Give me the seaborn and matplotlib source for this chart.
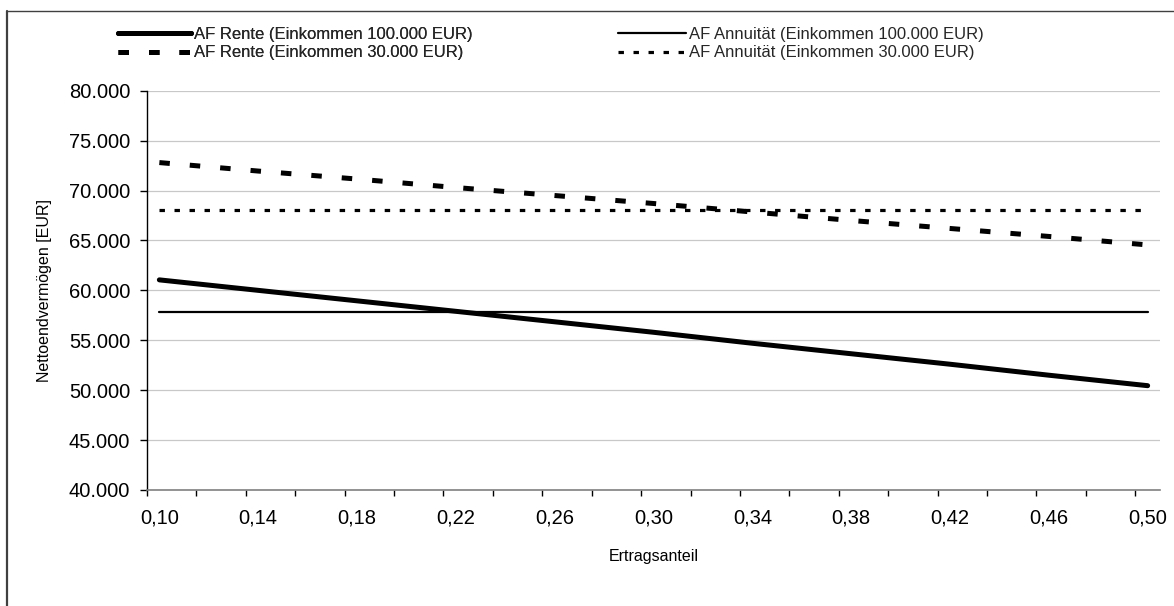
import numpy as np
import pandas as pd
import matplotlib
matplotlib.use("Agg")
import matplotlib.pyplot as plt
import seaborn as sns
from matplotlib.lines import Line2D

# ---- data ----
ertragsanteil = [0.10, 0.14, 0.18, 0.22, 0.26, 0.30, 0.34, 0.38, 0.42, 0.46, 0.50]
rente_100k = [61050, 60000, 58950, 57900, 56850, 55800, 54700, 53650, 52600, 51500, 50450]
rente_30k = [72800, 71950, 71150, 70300, 69500, 68700, 67850, 67000, 66200, 65400, 64550]
annuitaet_100k = [57850] * 11
annuitaet_30k = [68050] * 11

labels = ["AF Rente (Einkommen 100.000 EUR)",
          "AF Rente (Einkommen 30.000 EUR)",
          "AF Annuität (Einkommen 100.000 EUR)",
          "AF Annuität (Einkommen 30.000 EUR)"]

x_tick_labels = ["0,10", "0,14", "0,18", "0,22", "0,26", "0,30",
                 "0,34", "0,38", "0,42", "0,46", "0,50"]
y_ticks = [40000, 45000, 50000, 55000, 60000, 65000, 70000, 75000, 80000]
y_tick_labels = ["40.000", "45.000", "50.000", "55.000", "60.000", "65.000",
                 "70.000", "75.000", "80.000"]

sns.set_theme(style="white")
plt.rcParams['font.family'] = ['Liberation Sans', 'DejaVu Sans']

W, H = 1174, 606
fig = plt.figure(figsize=(W / 100, H / 100), dpi=100)
fig.patch.set_facecolor("white")

L, R, T, B = 147, 1160, 90.7, 490
ax = fig.add_axes([L / W, 1 - B / H, (R - L) / W, (B - T) / H])
ax.set_facecolor("white")

styles = [
    dict(lw=3.6, ls="-"),
    dict(lw=3.6, ls=(0, (2.1, 4.0))),
    dict(lw=1.6, ls="-"),
    dict(lw=2.3, ls=(0, (1.7, 3.0))),
]
series = [rente_100k, rente_30k, annuitaet_100k, annuitaet_30k]
handles = []
for vals, st, lab in zip(series, styles, labels):
    df = pd.DataFrame({"x": ertragsanteil, "y": vals})
    sns.lineplot(data=df, x="x", y="y", ax=ax, color="black",
                 linewidth=st["lw"], linestyle=st["ls"], legend=False)
    ln = ax.lines[-1]
    ln.set_dash_capstyle("butt")
    ln.set_solid_capstyle("round")
    handles.append(Line2D([], [], color="black", lw=st["lw"], ls=st["ls"],
                          dash_capstyle="butt"))

ax.set_xlim(0.095, 0.505)
ax.set_ylim(40000, 80000)

# category boundaries as tick marks, labels at category centres
bounds = [0.095 + 0.02 * i for i in range(21)]
ax.set_xticks(bounds)
ax.set_xticklabels([""] * len(bounds))
ax.set_xticks(ertragsanteil, minor=True)
ax.set_xticklabels(x_tick_labels, minor=True)
ax.tick_params(axis="x", which="major", length=4.5, width=1, color="black",
               direction="out", bottom=True)
ax.tick_params(axis="x", which="minor", length=0, pad=13, labelsize=14.5,
               labelcolor="black")

ax.set_yticks(y_ticks)
ax.set_yticklabels(y_tick_labels)
ax.tick_params(axis="y", which="major", length=5, width=1, color="black",
               direction="out", left=True, pad=7, labelsize=14.5,
               labelcolor="black")

ax.yaxis.grid(True, color="#c8c8c8", lw=0.9)
ax.xaxis.grid(False)
ax.set_axisbelow(True)

for s in ["top", "right"]:
    ax.spines[s].set_visible(False)
ax.spines["left"].set_color("black")
ax.spines["left"].set_linewidth(1)
ax.spines["bottom"].set_color("#808080")
ax.spines["bottom"].set_linewidth(1.2)

ax.set_xlabel("Ertragsanteil", fontsize=11.5, color="black")
ax.xaxis.label.set_va("center")
ax.xaxis.set_label_coords((653.5 - L) / (R - L), -(556 - B) / (B - T))
ax.set_ylabel("Nettoendvermögen [EUR]", fontsize=11.5, color="black")
ax.yaxis.label.set_va("center")
ax.yaxis.set_label_coords(-(L - 45) / (R - L), 0.5)

# legends (two columns)
leg_kw = dict(loc="upper left", frameon=False, fontsize=12,
              handletextpad=0.15, labelspacing=0.2, borderaxespad=0,
              borderpad=0)
leg1 = fig.legend(handles=handles[:2], labels=labels[:2],
                  bbox_to_anchor=(118 / W, 1 - 27 / H), handlelength=4.4,
                  **leg_kw)
fig.legend(handles=handles[2:], labels=labels[2:],
           bbox_to_anchor=(618 / W, 1 - 27 / H), handlelength=4.1, **leg_kw)
fig.add_artist(leg1)

# outer chart border (left and top edges visible)
fig.add_artist(Line2D([7 / W, 7 / W], [0, 1 - 11 / H], transform=fig.transFigure,
                      color="#404040", lw=1.6))
fig.add_artist(Line2D([7 / W, 1], [1 - 11 / H, 1 - 11 / H], transform=fig.transFigure,
                      color="#404040", lw=1.0))

fig.savefig("out.png", dpi=100, facecolor="white")
